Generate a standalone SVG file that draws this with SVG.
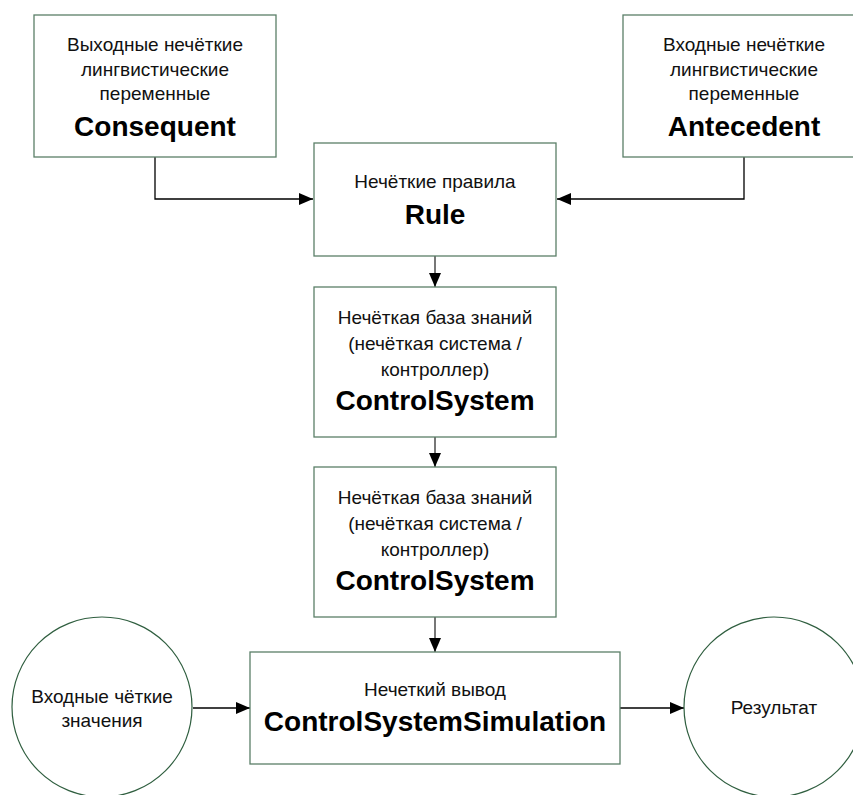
<svg xmlns="http://www.w3.org/2000/svg" width="853" height="795" viewBox="0 0 853 795">
<style>
.box{fill:#fff;stroke:#5b7f68;stroke-width:1.3}
.circ{fill:#fff;stroke:#2f5e3f;stroke-width:1.2}
.t{font-family:"Liberation Sans",Arial,sans-serif;font-size:19px;fill:#111;text-anchor:middle}
.b{font-family:"Liberation Sans",Arial,sans-serif;font-size:28px;font-weight:bold;fill:#000;text-anchor:middle}
.c{fill:none;stroke:#000;stroke-width:1.3}
.v{fill:none;stroke:#555;stroke-width:1.6}
</style>
<defs>
<marker id="ah" markerWidth="14" markerHeight="12" refX="14" refY="6" orient="auto" markerUnits="userSpaceOnUse">
<path d="M0,0 L14,6 L0,12 Z" fill="#000"/>
</marker>
</defs>
<rect width="853" height="795" fill="#fff"/>
<g id="connectors">
<path class="c" d="M155,157 V199 H313" marker-end="url(#ah)"/>
<path class="c" d="M744,157 V199 H557" marker-end="url(#ah)"/>
<path class="v" d="M435,256 V287" marker-end="url(#ah)"/>
<path class="v" d="M435,437 V467" marker-end="url(#ah)"/>
<path class="v" d="M435,617 V652" marker-end="url(#ah)"/>
<path class="c" d="M193,708 H250" marker-end="url(#ah)"/>
<path class="c" d="M620,708 H684" marker-end="url(#ah)"/>
</g>
<g id="consequent">
<rect class="box" x="34" y="15" width="242" height="142"/>
<text class="t" x="155" y="51">Выходные нечёткие</text>
<text class="t" x="155" y="76">лингвистические</text>
<text class="t" x="155" y="100">переменные</text>
<text class="b" x="155" y="136">Consequent</text>
</g>
<g id="antecedent">
<rect class="box" x="623" y="15" width="242" height="142"/>
<text class="t" x="744" y="51">Входные нечёткие</text>
<text class="t" x="744" y="76">лингвистические</text>
<text class="t" x="744" y="100">переменные</text>
<text class="b" x="744" y="136">Antecedent</text>
</g>
<g id="rule">
<rect class="box" x="314" y="143" width="242" height="113"/>
<text class="t" x="435" y="188">Нечёткие правила</text>
<text class="b" x="435" y="224">Rule</text>
</g>
<g id="controlsystem1">
<rect class="box" x="314" y="287" width="242" height="150"/>
<text class="t" x="435" y="324">Нечёткая база знаний</text>
<text class="t" x="435" y="350">(нечёткая система /</text>
<text class="t" x="435" y="376">контроллер)</text>
<text class="b" x="435" y="410">ControlSystem</text>
</g>
<g id="controlsystem2">
<rect class="box" x="314" y="467" width="242" height="150"/>
<text class="t" x="435" y="504">Нечёткая база знаний</text>
<text class="t" x="435" y="530">(нечёткая система /</text>
<text class="t" x="435" y="556">контроллер)</text>
<text class="b" x="435" y="590">ControlSystem</text>
</g>
<g id="simulation">
<rect class="box" x="250" y="652" width="370" height="112"/>
<text class="t" x="435" y="696">Нечеткий вывод</text>
<text class="b" x="435" y="731">ControlSystemSimulation</text>
</g>
<g id="input">
<circle class="circ" cx="102" cy="707" r="90"/>
<text class="t" x="102" y="703">Входные чёткие</text>
<text class="t" x="102" y="727">значения</text>
</g>
<g id="result">
<circle class="circ" cx="774" cy="707" r="90"/>
<text class="t" x="774" y="714">Результат</text>
</g>
</svg>
